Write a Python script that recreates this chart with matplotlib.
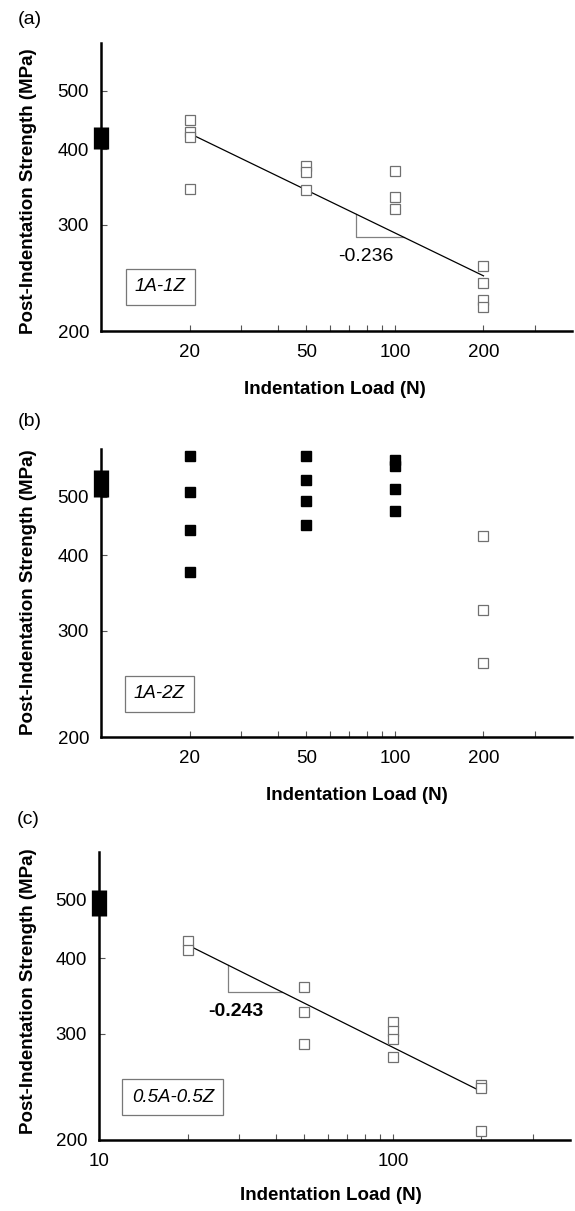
import matplotlib
matplotlib.use('Agg')
import matplotlib.pyplot as plt
from matplotlib.ticker import NullFormatter
import numpy as np

plt.rcParams['font.family'] = ['Liberation Sans', 'DejaVu Sans']

# ---- data ----
# (a) 1A-1Z : all open squares, power-law fit
a_load = [20, 20, 20, 20, 50, 50, 50, 100, 100, 100, 200, 200, 200, 200]
a_strength = [448, 427, 420, 344, 375, 367, 342, 368, 333, 319, 256, 240, 225, 219]
a_unindented = (401, 435)
a_fit_at20 = 425
a_slope = -0.236
a_tri_corner = (73.6, 286)

# (b) 1A-2Z : filled squares (no failure at indent), open squares at 200 N
b_load_filled = [20, 20, 20, 20, 50, 50, 50, 50, 100, 100, 100, 100]
b_strength_filled = [585, 510, 440, 376, 585, 533, 492, 449, 575, 562, 515, 473]
b_load_open = [200, 200, 200]
b_strength_open = [431, 325, 265]
b_unindented = (500, 554)

# (c) 0.5A-0.5Z
c_load = [20, 20, 50, 50, 50, 100, 100, 100, 100, 200, 200, 200]
c_strength = [427, 413, 359, 326, 289, 314, 303, 294, 274, 247, 244, 207]
c_unindented = (470, 520)
c_fit_at20 = 421
c_slope = -0.243
c_tri_corner = (27.4, 352)

W, H = 575, 1211
fig = plt.figure(figsize=(W / 100, H / 100), dpi=100)


def px(x, y):
    return x / W, 1 - y / H


def make_axes(left, right, bottom):
    top = bottom - 288
    x0, y0 = px(left, bottom)
    return fig.add_axes([x0, y0, (right - left) / W, 288 / H])


def style_axes(ax, major, minor):
    ax.set_xscale('log')
    ax.set_yscale('log')
    ax.set_xlim(10, 400)
    ax.set_ylim(200, 600)
    for s in ['top', 'right']:
        ax.spines[s].set_visible(False)
    for s in ['left', 'bottom']:
        ax.spines[s].set_linewidth(1.8)
    ax.set_xticks(major, [str(m) for m in major])
    ax.set_xticks(minor, minor=True)
    ax.xaxis.set_minor_formatter(NullFormatter())
    ax.set_yticks([200, 300, 400, 500], ['200', '300', '400', '500'])
    ax.set_yticks([], minor=True)
    ax.tick_params(axis='both', which='both', direction='in', length=4,
                   width=0.8, color='#555555', labelsize=13.5)
    ax.tick_params(axis='x', which='major', pad=9.5)
    ax.tick_params(axis='y', which='major', pad=8.5)


def unindented_bar(ax, rng):
    ax.vlines(10, rng[0], rng[1], colors='black', linewidth=11,
              clip_on=False, zorder=6)


def open_squares(ax, x, y):
    ax.plot(x, y, 's', ms=7, mfc='white', mec='#707070', mew=0.9,
            linestyle='none', zorder=4, clip_on=False)


def fit_line(ax, y20, slope, corner):
    xs = np.array([20.0, 200.0])
    ax.plot(xs, y20 * (xs / 20) ** slope, color='black', lw=0.9, zorder=3)
    cx, cy = corner
    top = y20 * (cx / 20) ** slope
    xend = 20 * (cy / y20) ** (1 / slope)
    ax.plot([cx, cx, xend], [top, cy, cy], color='#808080', lw=0.9, zorder=2)


ab_major = [20, 50, 100, 200]
ab_minor = [30, 40, 60, 70, 80, 90, 300]

# ---- (a) ----
ax_a = make_axes(101, 572, 331)
style_axes(ax_a, ab_major, ab_minor)
fit_line(ax_a, a_fit_at20, a_slope, a_tri_corner)
open_squares(ax_a, a_load, a_strength)
unindented_bar(ax_a, a_unindented)
ax_a.text(79.6, 265.4, '-0.236', fontsize=14, ha='center', va='center')

# ---- (b) ----
ax_b = make_axes(101, 572, 737)
style_axes(ax_b, ab_major, ab_minor)
ax_b.plot(b_load_filled, b_strength_filled, 's', ms=7.5, color='black',
          linestyle='none', zorder=4, clip_on=False)
open_squares(ax_b, b_load_open, b_strength_open)
unindented_bar(ax_b, b_unindented)

# ---- (c) ----
ax_c = make_axes(99, 570, 1140)
style_axes(ax_c, [10, 100], [20, 30, 40, 50, 60, 70, 80, 90, 200, 300])
fit_line(ax_c, c_fit_at20, c_slope, c_tri_corner)
open_squares(ax_c, c_load, c_strength)
unindented_bar(ax_c, c_unindented)
ax_c.text(29.3, 326.4, '-0.243', fontsize=14, fontweight='bold',
          ha='center', va='center')

# ---- labels ----
box = dict(boxstyle='square,pad=0.5', fc='white', ec='#777777', lw=0.9)
for label, (bx, by) in [('1A-1Z', (160.5, 287)), ('1A-2Z', (159.5, 694)),
                        ('0.5A-0.5Z', (173, 1097))]:
    fig.text(*px(bx, by), label, fontsize=13.5, style='italic',
             ha='center', va='center', bbox=box)

for lab, (lx, ly) in [('(a)', (29.5, 20)), ('(b)', (30, 422)), ('(c)', (28.5, 820))]:
    fig.text(*px(lx, ly), lab, fontsize=14, ha='center', va='center')

for yc in [191, 592, 991]:
    fig.text(*px(29, yc), 'Post-Indentation Strength (MPa)', fontsize=13.5,
             fontweight='bold', rotation=90, ha='center', va='center')

for xc, yc in [(335, 389), (357, 795), (331, 1195)]:
    fig.text(*px(xc, yc), 'Indentation Load (N)', fontsize=13.5,
             fontweight='bold', ha='center', va='center')

fig.savefig('out.png', dpi=100)
